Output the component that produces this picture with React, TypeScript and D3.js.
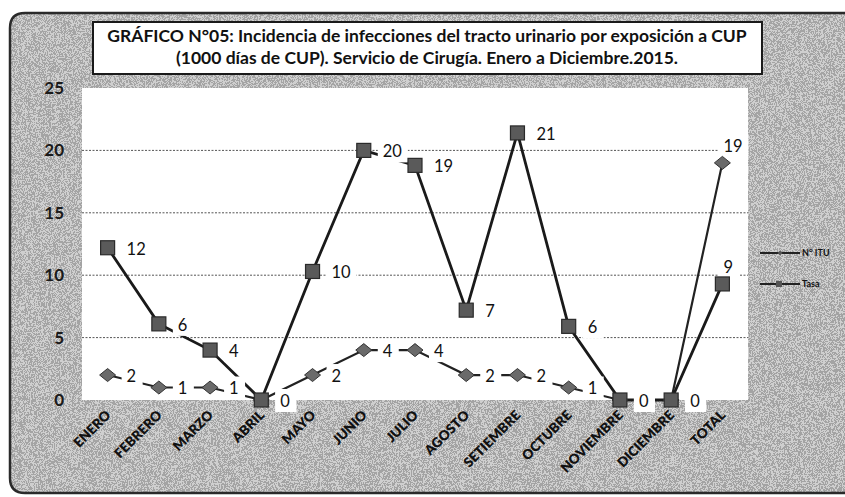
import React from "react";
import * as d3 from "d3";

const categories = ["ENERO", "FEBRERO", "MARZO", "ABRIL", "MAYO", "JUNIO", "JULIO", "AGOSTO", "SETIEMBRE", "OCTUBRE", "NOVIEMBRE", "DICIEMBRE", "TOTAL"];
const nITU = [2, 1, 1, 0, 2, 4, 4, 2, 2, 1, 0, 0, 19];
const tasa = [12.2, 6.1, 4.0, 0, 10.3, 20, 18.8, 7.2, 21.4, 5.9, 0, 0, 9.3];
const yTicks = [0, 5, 10, 15, 20, 25];
const seriesNames = ["N° ITU", "Tasa"];
const titleLines = [
  "GRÁFICO N°05: Incidencia de infecciones del tracto urinario por exposición a CUP",
  "(1000 días de CUP). Servicio de Cirugía. Enero a Diciembre.2015.",
];

const W = 845;
const H = 497;
const plot = { left: 82, right: 748, top: 88, bottom: 400 };
const FONT = "Lato, 'Open Sans', sans-serif";
const FRAME = "M10,28 Q10,13 25,13 L860,13 L860,493 L25,493 Q10,493 10,478 Z";

export default function App() {
  const band = (plot.right - plot.left) / categories.length;
  const x = d3
    .scalePoint<string>()
    .domain(categories)
    .range([plot.left + band / 2, plot.right - band / 2]);
  const y = d3.scaleLinear().domain([0, 25]).range([plot.bottom, plot.top]);
  const line = d3
    .line<number>()
    .x((_, i) => x(categories[i]) as number)
    .y((d) => y(d));

  const last = categories.length - 1;
  const labelPos = (i: number, v: number) => {
    const cx = x(categories[i]) as number;
    const cy = y(v);
    if (i === last) return { lx: cx + 1, ly: cy - 17 };
    return { lx: cx + 19, ly: cy + 1 };
  };

  const renderLabel = (i: number, v: number, key: string) => {
    const { lx, ly } = labelPos(i, v);
    const txt = String(Math.round(v));
    const w = txt.length * 9 + 12;
    return (
      <g key={key}>
        <rect x={lx - 5} y={ly - 12} width={w} height={23} fill="#fff" />
        <text x={lx} y={ly} dy="0.36em" fontSize={16.5} fontFamily={FONT} fill="#111">
          {txt}
        </text>
      </g>
    );
  };

  const diamond = (cx: number, cy: number, rx: number, ry: number) =>
    `M${cx},${cy - ry}L${cx + rx},${cy}L${cx},${cy + ry}L${cx - rx},${cy}Z`;

  return (
    <svg
      width={W}
      height={H}
      style={{ position: "absolute", left: 0, top: 0, display: "block", background: "#fff" }}
    >
      <defs>
        <filter id="noise" x="0" y="0" width="100%" height="100%">
          <feTurbulence type="fractalNoise" baseFrequency="1.4" numOctaves="1" seed="3" />
          <feColorMatrix type="saturate" values="0" />
          <feComponentTransfer>
            <feFuncR type="discrete" tableValues="0.35 1" />
            <feFuncG type="discrete" tableValues="0.35 1" />
            <feFuncB type="discrete" tableValues="0.35 1" />
            <feFuncA type="linear" slope="0" intercept="1" />
          </feComponentTransfer>
        </filter>
        <clipPath id="frameClip">
          <path d={FRAME} />
        </clipPath>
      </defs>

      {/* outer frame with scanned grey background */}
      <path d={FRAME} fill="#a8a8a8" />
      <g clipPath="url(#frameClip)">
        <rect x={0} y={0} width={W} height={H} filter="url(#noise)" opacity={0.45} />
      </g>
      <path d={FRAME} fill="none" stroke="#2a2a2a" strokeWidth={2.5} />

      {/* plot area */}
      <rect x={plot.left} y={plot.top} width={plot.right - plot.left} height={plot.bottom - plot.top} fill="#fff" />
      {yTicks
        .filter((t) => t > 0 && t < 25)
        .map((t) => (
          <line
            key={"g" + t}
            x1={plot.left}
            x2={plot.right}
            y1={y(t)}
            y2={y(t)}
            stroke="#555"
            strokeWidth={1}
            strokeDasharray="2,1.5"
          />
        ))}

      {/* title box */}
      <rect x={93} y={22} width={669} height={52} fill="#fff" stroke="#1a1a1a" strokeWidth={2} />
      {titleLines.map((t, i) => (
        <text
          key={"t" + i}
          x={427}
          y={42 + i * 22}
          textAnchor="middle"
          fontSize={17.5}
          fontWeight={700}
          fontFamily={FONT}
          fill="#111"
        >
          {t}
        </text>
      ))}

      {/* y tick labels */}
      {yTicks.map((t) => (
        <text
          key={"y" + t}
          x={64}
          y={y(t)}
          dy="0.35em"
          textAnchor="end"
          fontSize={17}
          fontWeight={700}
          fontFamily={FONT}
          fill="#1a1a1a"
        >
          {t}
        </text>
      ))}

      {/* x tick labels */}
      {categories.map((c) => (
        <text
          key={"x" + c}
          transform={`translate(${(x(c) as number) + 4},${plot.bottom + 16}) rotate(-45)`}
          textAnchor="end"
          fontSize={13.5}
          fontWeight={800}
          fontFamily={FONT}
          fill="#111"
        >
          {c}
        </text>
      ))}

      {/* lines */}
      <path d={line(nITU) || ""} fill="none" stroke="#222" strokeWidth={2.2} />
      <path d={line(tasa) || ""} fill="none" stroke="#1a1a1a" strokeWidth={2.8} />

      {/* labels (white boxes hide the line near them) */}
      {nITU.map((v, i) => renderLabel(i, v, "ln" + i))}
      {tasa.map((v, i) => renderLabel(i, v, "lt" + i))}

      {/* markers */}
      {nITU.map((v, i) => (
        <path
          key={"d" + i}
          d={diamond(x(categories[i]) as number, y(v), 8, 6.5)}
          fill="#6a6a6a"
          stroke="#333"
          strokeWidth={1}
        />
      ))}
      {tasa.map((v, i) => (
        <rect
          key={"s" + i}
          x={(x(categories[i]) as number) - 7}
          y={y(v) - 7}
          width={14}
          height={14}
          fill="#5a5a5a"
          stroke="#2a2a2a"
          strokeWidth={1.2}
        />
      ))}

      {/* legend */}
      {seriesNames.map((n, i) => {
        const ly = 253 + i * 31;
        return (
          <g key={"lg" + i}>
            <line x1={760} x2={800} y1={ly} y2={ly} stroke="#222" strokeWidth={2} />
            {i === 0 ? (
              <path d={diamond(780, ly, 2.5, 2.5)} fill="#555" />
            ) : (
              <rect x={776} y={ly - 3} width={6} height={6} fill="#555" />
            )}
            <text x={802} y={ly} dy="0.35em" fontSize={9} fontWeight={700} fontFamily={FONT} fill="#111">
              {n}
            </text>
          </g>
        );
      })}
    </svg>
  );
}
